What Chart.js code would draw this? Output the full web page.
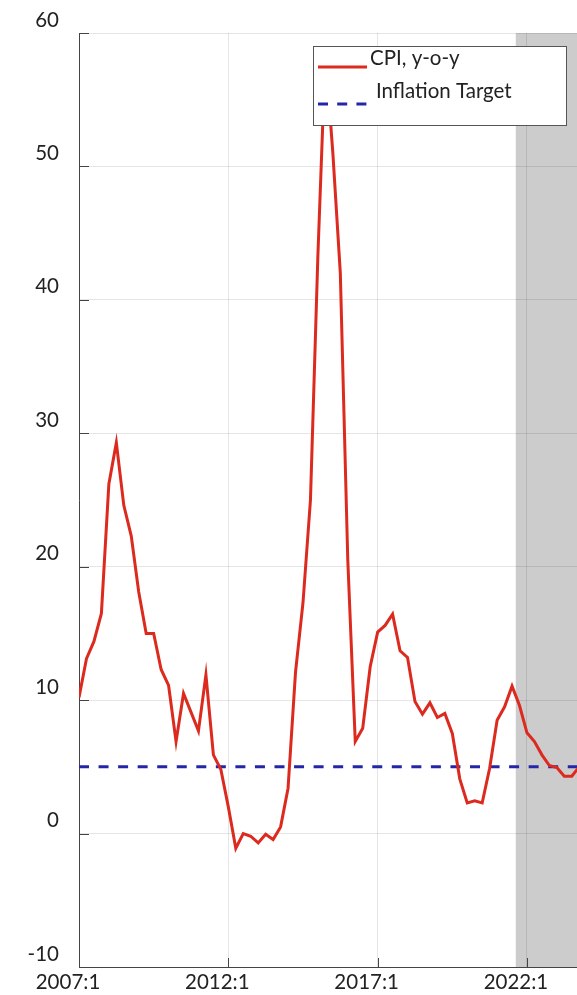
<!DOCTYPE html>
<html><head><meta charset="utf-8">
<script src="https://cdn.jsdelivr.net/npm/chart.js@4/dist/chart.umd.min.js"></script>
<style>html,body{margin:0;padding:0;background:#fff;overflow:hidden}canvas{display:block}</style>
</head><body>
<canvas id="c" width="577" height="995"></canvas>
<script>
// ---- data ----
const startYear = 2007;
const cpiLabel = 'CPI, y-o-y';
const targetLabel = 'Inflation Target';
const cpiYoY = [
  10.2, 13.1, 14.4, 16.5, 26.2, 29.3, 24.6, 22.3,
  18.1, 15.0, 15.0, 12.3, 11.1, 6.9, 10.5, 9.1,
  7.7, 11.9, 5.9, 4.8, 2.0, -1.1, 0.0, -0.2,
  -0.7, -0.05, -0.45, 0.5, 3.4, 12.1, 17.3, 25.0,
  43.4, 58.5, 51.0, 42.0, 20.5, 6.9, 7.9, 12.5,
  15.1, 15.6, 16.45, 13.7, 13.2, 9.9, 8.95, 9.8,
  8.7, 9.0, 7.5, 4.1, 2.3, 2.45, 2.3, 4.9,
  8.5, 9.5, 11.05, 9.6, 7.55, 6.9, 5.9, 5.1,
  4.95, 4.3, 4.3, 5.0
];
const inflationTarget = [
  5,5,5,5,5,5,5,5, 5,5,5,5,5,5,5,5,
  5,5,5,5,5,5,5,5, 5,5,5,5,5,5,5,5,
  5,5,5,5,5,5,5,5, 5,5,5,5,5,5,5,5,
  5,5,5,5,5,5,5,5, 5,5,5,5,5,5,5,5,
  5,5,5,5
];
const tickLabels = ['2007:1', '2012:1', '2017:1', '2022:1'];
const quartersPerTick = 20;
const shadedFromQuarter = 58.5;   // shaded (forecast) period starts here
const lastVisibleQuarter = 66.7;
const yMin = -10, yMax = 60, yStep = 10;

// ---- styles ----
const FONT = 'Lato';
const RED = 'rgb(220,42,30)';
const BLUE = 'rgb(36,38,168)';
const TEXT = '#222';

const quarterLabels = cpiYoY.map((_, i) => (startYear + Math.floor(i / 4)) + ':' + (i % 4 + 1));
const toPoints = arr => arr.map((v, i) => ({ x: i, y: v, q: quarterLabels[i] }));

const bgPlugin = {
  id: 'bgShade',
  beforeDraw(chart) {
    const { ctx, chartArea: a, scales: { x } } = chart;
    ctx.save();
    ctx.fillStyle = '#fff';
    ctx.fillRect(0, 0, chart.width, chart.height);
    const x0 = x.getPixelForValue(shadedFromQuarter);
    ctx.fillStyle = '#cccccc';
    ctx.fillRect(x0, a.top, a.right - x0, a.bottom - a.top);
    ctx.restore();
  }
};

const innerTicks = {
  id: 'innerTicks',
  afterDraw(chart) {
    const { ctx, chartArea: a, scales: { x, y } } = chart;
    ctx.save();
    ctx.strokeStyle = '#444';
    ctx.lineWidth = 1;
    ctx.beginPath();
    y.ticks.forEach(t => {
      const py = Math.round(y.getPixelForValue(t.value)) + 0.5;
      ctx.moveTo(a.left, py); ctx.lineTo(a.left + 10, py);
    });
    x.ticks.forEach(t => {
      const px = Math.round(x.getPixelForValue(t.value)) + 0.5;
      ctx.moveTo(px, a.bottom); ctx.lineTo(px, a.bottom - 9);
    });
    ctx.stroke();
    ctx.restore();
  }
};

const boxLegend = {
  id: 'boxLegend',
  afterDraw(chart) {
    const { ctx } = chart;
    const ds = chart.data.datasets;
    ctx.save();
    ctx.fillStyle = '#fff';
    ctx.fillRect(313, 46, 253, 79);
    ctx.strokeStyle = '#555';
    ctx.lineWidth = 1;
    ctx.strokeRect(313.5, 46.5, 253, 79);
    ctx.strokeStyle = ds[0].borderColor; ctx.lineWidth = 3;
    ctx.beginPath(); ctx.moveTo(318, 67); ctx.lineTo(367, 67); ctx.stroke();
    ctx.strokeStyle = ds[1].borderColor;
    ctx.setLineDash([10, 9.2]);
    ctx.beginPath(); ctx.moveTo(318, 104); ctx.lineTo(367, 104); ctx.stroke();
    ctx.setLineDash([]);
    ctx.fillStyle = TEXT;
    ctx.font = '20.5px ' + FONT;
    ctx.textBaseline = 'alphabetic';
    ctx.fillText(ds[0].label, 370, 65);
    ctx.fillText(ds[1].label, 376, 98);
    ctx.restore();
  }
};

function draw() {
  new Chart(document.getElementById('c'), {
    type: 'line',
    data: {
      datasets: [
        { label: cpiLabel, data: toPoints(cpiYoY), borderColor: RED, borderWidth: 3,
          pointRadius: 0, tension: 0, fill: false },
        { label: targetLabel, data: toPoints(inflationTarget), borderColor: BLUE, borderWidth: 3,
          borderDash: [10, 9.55], pointRadius: 0, tension: 0, fill: false }
      ]
    },
    options: {
      responsive: false,
      animation: false,
      devicePixelRatio: 1,
      layout: { padding: { top: 33, right: 0, left: 0, bottom: 0 } },
      plugins: { legend: { display: false }, tooltip: { enabled: false }, title: { display: false } },
      scales: {
        x: {
          type: 'linear', min: 0, max: lastVisibleQuarter,
          afterFit(s) { s.height = 28; s.paddingLeft = 0; s.paddingRight = 0; },
          grid: { color: 'rgba(0,0,0,0.1)', drawTicks: false, lineWidth: 1 },
          border: { display: true, color: '#444', width: 1 },
          ticks: {
            stepSize: quartersPerTick, includeBounds: false, autoSkip: false, maxRotation: 0,
            labelOffset: -11, padding: 3, color: TEXT, font: { family: FONT, size: 20.5 },
            callback: v => tickLabels[Math.round(v / quartersPerTick)] ?? ''
          }
        },
        y: {
          min: yMin, max: yMax,
          afterFit(s) { s.width = 79; s.paddingTop = 0; s.paddingBottom = 0; },
          grid: { color: 'rgba(0,0,0,0.1)', drawTicks: false, lineWidth: 1 },
          border: { display: true, color: '#444', width: 1 },
          ticks: {
            stepSize: yStep, labelOffset: -13, padding: 20, color: TEXT,
            font: { family: FONT, size: 20.5 }
          }
        }
      }
    },
    plugins: [bgPlugin, innerTicks, boxLegend]
  });
}
(document.fonts && document.fonts.load ? document.fonts.load('20px ' + FONT) : Promise.resolve()).then(draw, draw);
</script>
</body></html>
